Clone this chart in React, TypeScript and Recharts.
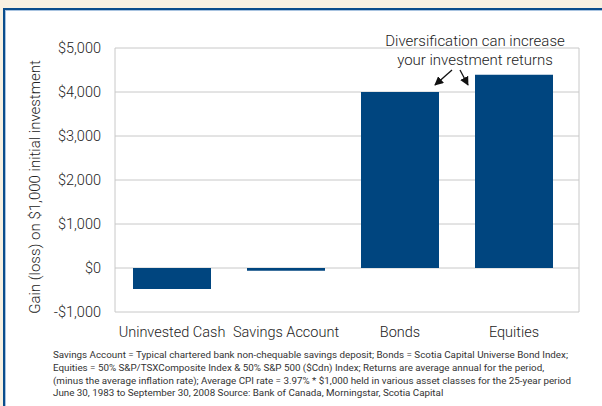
import { BarChart, Bar, XAxis, YAxis, CartesianGrid } from 'recharts'

const categories = ['Uninvested Cash', 'Savings Account', 'Bonds', 'Equities']
const gains = [-480, -60, 4000, 4390]
const yTicks = [-1000, 0, 1000, 2000, 3000, 4000, 5000]

const axisTitle = 'Gain (loss) on $1,000 initial investment'
const noteLines = ['Diversification can increase', 'your investment returns']
const footnoteLines = [
  'Savings Account = Typical chartered bank non-chequable savings deposit; Bonds = Scotia Capital Universe Bond Index;',
  'Equities = 50% S&P/TSXComposite Index & 50% S&P 500 ($Cdn) Index; Returns are average annual for the period,',
  '(minus the average inflation rate); Average CPI rate = 3.97% * $1,000 held in various asset classes for the 25-year period',
  'June 30, 1983 to September 30, 2008 Source:  Bank of Canada, Morningstar, Scotia Capital',
]

const FONT = 'Roboto, "DejaVu Sans", sans-serif'
const TEXT = '#222222'
const BAR = '#00457f'
const GRID = '#c8c8c8'

const money = (v: number) => (v < 0 ? '-$' : '$') + Math.abs(v).toLocaleString('en-US')

export default function App() {
  const data = categories.map((c, i) => ({ category: c, gain: gains[i] }))

  return (
    <div style={{ position: 'absolute', left: 0, top: 0, width: 602, height: 406, background: '#f8f1e2', overflow: 'hidden', fontFamily: FONT }}>
      {/* white panel with blue frame, runs off right/bottom */}
      <div style={{
        position: 'absolute', left: 3, top: 8, width: 640, height: 440, background: '#fff',
        borderLeft: '2px solid #0a4d8c', borderTop: '2px solid #0a4d8c', boxSizing: 'border-box',
        boxShadow: 'inset 1px 1px 0 #a8c3e0',
      }} />

      <div style={{ position: 'absolute', left: 0, top: 0 }}>
        <BarChart width={602} height={406} data={data}
          margin={{ top: 48, right: 23, bottom: 64, left: 0 }} barCategoryGap={18}>
          <CartesianGrid stroke={GRID}
            verticalCoordinatesGenerator={({ offset }: any) => [offset.left, offset.left + offset.width]} />
          <XAxis dataKey="category" interval={0} axisLine={false} tickLine={false}
            tickSize={6} tickMargin={9} height={30} padding={{ left: 0, right: 8 }}
            tick={{ fontSize: 14.5, fill: TEXT, fontFamily: FONT, fontWeight: 300 }} />
          <YAxis domain={[-1000, 5000]} ticks={yTicks} width={115} axisLine={false} tickLine={false}
            tickSize={6} tickMargin={8} tickFormatter={money}
            tick={{ fontSize: 14.5, fill: TEXT, fontFamily: FONT, fontWeight: 300 }} />
          <Bar dataKey="gain" fill={BAR} isAnimationActive={false} />
        </BarChart>
      </div>

      {/* axis title, note and arrows */}
      <svg width={602} height={406} style={{ position: 'absolute', left: 0, top: 0, pointerEvents: 'none' }}>
        <defs>
          <marker id="head" viewBox="0 0 10 10" refX="9" refY="5" markerWidth="9" markerHeight="9"
            markerUnits="userSpaceOnUse" orient="auto">
            <path d="M0,0 L10,5 L0,10 z" fill="#111" />
          </marker>
        </defs>
        <text x={35} y={187} transform="rotate(-90 35 187)" textAnchor="middle" dominantBaseline="central"
          fontSize={15} fontWeight={300} fill={TEXT} fontFamily={FONT}>{axisTitle}</text>
        {noteLines.map((t, i) => (
          <text key={i} x={475} y={41 + i * 19} textAnchor="middle" dominantBaseline="central"
            fontSize={15} fontWeight={300} fill={TEXT} fontFamily={FONT}>{t}</text>
        ))}
        <line x1={452} y1={70} x2={435} y2={85} stroke="#111" strokeWidth={1.3} markerEnd="url(#head)" />
        <line x1={460} y1={70} x2={468} y2={85} stroke="#111" strokeWidth={1.3} markerEnd="url(#head)" />
      </svg>

      <div style={{ position: 'absolute', left: 53, top: 349, fontSize: 9.8, lineHeight: '12.8px', color: '#333', whiteSpace: 'nowrap' }}>
        {footnoteLines.map((l, i) => <div key={i}>{l}</div>)}
      </div>
    </div>
  )
}
